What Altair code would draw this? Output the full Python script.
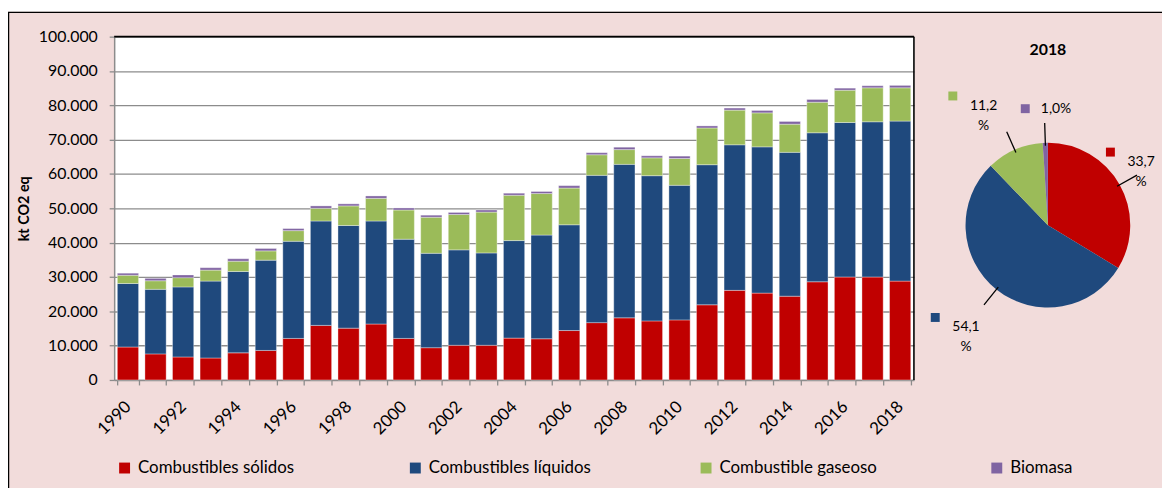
import math
import altair as alt
import pandas as pd

# ---------------- data ----------------
years = list(range(1990, 2019))
solidos = [9600, 7600, 6700, 6400, 7900, 8600, 12100, 15900, 15100, 16300,
           12100, 9400, 10100, 10100, 12200, 12000, 14400, 16700, 18100, 17200,
           17500, 21900, 26100, 25300, 24400, 28600, 30000, 30000, 28800]
liquidos = [18500, 18800, 20400, 22400, 23700, 26300, 28300, 30400, 29900, 30000,
            28900, 27500, 27800, 26900, 28400, 30200, 30800, 42900, 44700, 42300,
            39200, 40800, 42400, 42600, 41900, 43400, 45000, 45200, 46600]
gaseoso = [2400, 2500, 2700, 3200, 3000, 2700, 3100, 3700, 5700, 6600,
           8500, 10500, 10300, 11900, 13200, 12100, 10700, 6000, 4300, 5200,
           7800, 10700, 10100, 9900, 8200, 8900, 9400, 9900, 9700]
biomasa = [600, 700, 800, 700, 700, 700, 600, 700, 600, 700,
           600, 600, 600, 600, 600, 600, 700, 600, 700, 600,
           700, 600, 600, 700, 800, 800, 600, 600, 700]
series_names = ["Combustibles sólidos", "Combustibles líquidos",
                "Combustible gaseoso", "Biomasa"]
series_colors = ["#C00000", "#1F497D", "#9BBB59", "#8064A2"]
y_ticks = list(range(0, 100001, 10000))
pie_year = "2018"
pie_pct = [33.7, 54.1, 11.2, 1.0]

# ---------------- layout ----------------
FONT = "Lato"
W, H = 806, 346
PAD_L, PAD_T, PAD_R, PAD_B = 107, 27, 250, 107
GRID = "#8c8c8c"
CX, CY, R_PIE = 941, 190, 83
GAP = 24
X_MAX = 1035  # keep pie labels inside the frame
KEY_DX = 31
MIN_SEP = 20

rows = []
for i, yr in enumerate(years):
    for k, (name, vals) in enumerate(zip(series_names, [solidos, liquidos, gaseoso, biomasa])):
        rows.append({"year": yr, "fuente": name, "kt": vals[i], "k": k})
bars_df = pd.DataFrame(rows)

color = alt.Color(
    "fuente:N",
    scale=alt.Scale(domain=series_names, range=series_colors),
    legend=alt.Legend(
        orient="none", legendX=2, legendY=426, direction="horizontal",
        columns=4, gridAlign="all", columnPadding=107,
        symbolType="square", symbolSize=121, symbolStrokeWidth=0,
        labelFont=FONT, labelFontSize=17, labelColor="black", labelOffset=5,
        labelLimit=400, title=None, padding=0,
    ),
)

bars = alt.Chart(bars_df).mark_bar(stroke="white", strokeWidth=0.6, strokeOpacity=0.6).encode(
    x=alt.X("year:O", scale=alt.Scale(paddingInner=0.23, paddingOuter=0.115),
            axis=alt.Axis(
                title=None, labelExpr="datum.value % 2 == 0 ? datum.label : ''",
                labelAngle=315, labelAlign="right", labelBaseline="middle",
                labelPadding=19, labelFont=FONT, labelFontSize=17, labelColor="black",
                labelOverlap=False, labelFlush=False,
                tickBand="extent", tickSize=5, tickColor=GRID, tickWidth=1.3,
                domainColor=GRID, domainWidth=1.5, grid=False)),
    y=alt.Y("kt:Q", stack="zero", scale=alt.Scale(domain=[0, 100000], nice=False),
            axis=alt.Axis(
                values=y_ticks,
                labelExpr="replace(format(datum.value, ','), ',', '.')",
                grid=True, gridColor=GRID, gridWidth=1.3,
                domainColor=GRID, domainWidth=1.5,
                tickColor=GRID, tickSize=5, tickWidth=1.3,
                labelFont=FONT, labelFontSize=16, labelColor="black", labelPadding=12,
                title="kt CO2 eq", titleFont=FONT, titleFontSize=14.5,
                titleFontWeight="bold", titleColor="black",
                titleX=-90, titleY=H / 2, titleAngle=270,
                titleAlign="center", titleBaseline="middle")),
    color=color,
    order=alt.Order("k:Q", sort="ascending"),
)

one = pd.DataFrame([{"a": 0}])

frame = alt.Chart(one).mark_rect(fillOpacity=0, stroke="black", strokeWidth=1.5).encode(
    x=alt.value(-106.5), x2=alt.value(1100), y=alt.value(-24.5), y2=alt.value(520))
strip = alt.Chart(one).mark_rect(color="white").encode(
    x=alt.value(-120), x2=alt.value(1100), y=alt.value(-30), y2=alt.value(-25.3))

top_border = alt.Chart(one).mark_rule(color="black", strokeWidth=1.6).encode(
    x=alt.value(0), x2=alt.value(W), y=alt.value(0))
right_border = alt.Chart(one).mark_rule(color="black", strokeWidth=1.6).encode(
    x=alt.value(W), y=alt.value(0), y2=alt.value(H))

# ---------------- pie ----------------
pie_df = pd.DataFrame({"fuente": series_names, "pct": pie_pct, "k": list(range(4))})
arc = alt.Chart(pie_df).mark_arc(outerRadius=R_PIE).encode(
    theta=alt.Theta("pct:Q", stack=True),
    color=color,
    order=alt.Order("k:Q", sort="ascending"),
    x=alt.value(CX), y=alt.value(CY),
)

total = sum(pie_pct)
lab_rows = []
cum = 0.0
for name, p in zip(series_names, pie_pct):
    mid = (cum + p / 2) / total * 2 * math.pi
    cum += p
    num = f"{p:.1f}".replace(".", ",")
    text = num + "%" if len(num) <= 3 else num + "\n%"
    nlines = text.count("\n") + 1
    sx, sy = math.sin(mid), -math.cos(mid)
    half_w, half_h = 15, nlines * 10
    ext = abs(sx) * half_w + abs(sy) * half_h
    dist = R_PIE + GAP + ext
    lab_rows.append({
        "fuente": name, "text": text, "nlines": nlines,
        "lx": min(CX + dist * sx, X_MAX), "ly": CY + dist * sy,
        "sx": sx, "sy": sy,
    })

# simple collision resolution: push neighbouring labels apart horizontally
lab_rows.sort(key=lambda r: r["lx"])
for _ in range(3):
    for a, b in zip(lab_rows[:-1], lab_rows[1:]):
        v_overlap = abs(a["ly"] - b["ly"]) < (a["nlines"] + b["nlines"]) * 10
        right_a = a["lx"] + 16
        left_b = b["lx"] - KEY_DX - 6
        if v_overlap and right_a + MIN_SEP > left_b:
            shift = (right_a + MIN_SEP - left_b) / 2
            a["lx"] -= shift
            b["lx"] += shift

r2 = R_PIE + GAP - 4
for r in lab_rows:
    r["kx"] = r["lx"] - KEY_DX
    r["ky"] = r["ly"] - (r["nlines"] - 1) * 10
    r["x1"] = CX + (R_PIE - 3) * r["sx"]
    r["y1"] = CY + (R_PIE - 3) * r["sy"]
    r["x2"] = CX + r2 * r["sx"]
    r["y2"] = CY + r2 * r["sy"]
lab_df = pd.DataFrame(lab_rows)

leaders = alt.Chart(lab_df).mark_rule(color="black", strokeWidth=1.3).encode(
    x=alt.X("x1:Q", scale=None, axis=None), y=alt.Y("y1:Q", scale=None, axis=None),
    x2="x2:Q", y2="y2:Q")
keys = alt.Chart(lab_df).mark_square(size=81, opacity=1).encode(
    x=alt.X("kx:Q", scale=None, axis=None), y=alt.Y("ky:Q", scale=None, axis=None),
    color=color)
labels = alt.Chart(lab_df).mark_text(
    font=FONT, fontSize=14, lineHeight=20, lineBreak="\n", color="black",
    align="center", baseline="middle").encode(
    x=alt.X("lx:Q", scale=None, axis=None), y=alt.Y("ly:Q", scale=None, axis=None),
    text="text:N")
pie_title = alt.Chart(pd.DataFrame({"t": [pie_year]})).mark_text(
    font=FONT, fontSize=16, fontWeight="bold", color="black").encode(
    x=alt.value(CX), y=alt.value(13), text="t:N")

chart = alt.layer(
    frame, strip, bars, top_border, right_border, arc, leaders, keys, labels, pie_title
).resolve_scale(
    x="independent", y="independent"
).properties(
    width=W, height=H,
    autosize=alt.AutoSizeParams(type="none"),
    padding={"left": PAD_L, "top": PAD_T, "right": PAD_R, "bottom": PAD_B},
).configure(
    background="#F2DCDB", font=FONT,
).configure_view(
    stroke="transparent", fill="white",
)

chart.save("out.html", embed_options={"renderer": "svg", "actions": False})
